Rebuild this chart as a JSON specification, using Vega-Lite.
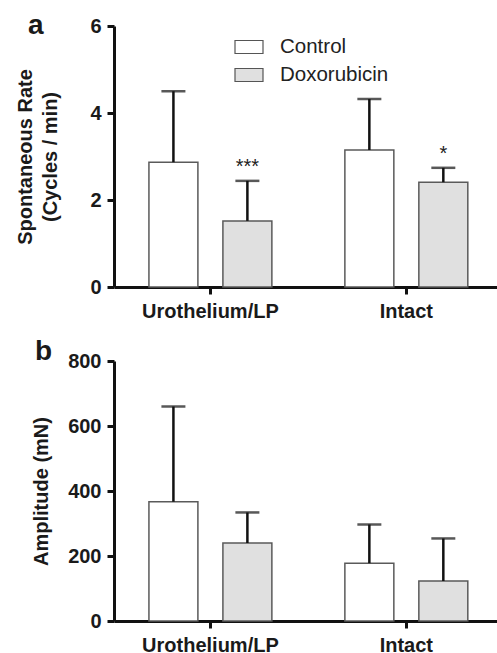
{
  "$schema": "https://vega.github.io/schema/vega-lite/v6.json",
  "padding": {"left": 15, "top": 12, "right": 0, "bottom": 0},
  "background": "white",
  "config": {
    "font": "Liberation Sans",
    "view": {"stroke": null},
    "axis": {
      "domainColor": "#111",
      "domainWidth": 3,
      "tickColor": "#111",
      "tickWidth": 3,
      "tickSize": 7,
      "labelFont": "Liberation Sans",
      "labelFontSize": 20,
      "labelFontWeight": "bold",
      "labelColor": "#1a1a1a",
      "titleFont": "Liberation Sans",
      "titleFontSize": 20,
      "titleFontWeight": "bold",
      "titleColor": "#1a1a1a",
      "grid": false
    },
    "title": {"font": "Liberation Sans", "fontSize": 28, "fontWeight": "bold", "color": "#1a1a1a"}
  },
  "datasets": {
    "rate": [
      {"site": "Urothelium/LP", "group": "Control", "value": 2.87, "upper": 4.5, "sig": ""},
      {"site": "Urothelium/LP", "group": "Doxorubicin", "value": 1.52, "upper": 2.44, "sig": "***"},
      {"site": "Intact", "group": "Control", "value": 3.15, "upper": 4.32, "sig": ""},
      {"site": "Intact", "group": "Doxorubicin", "value": 2.41, "upper": 2.74, "sig": "*"}
    ],
    "amp": [
      {"site": "Urothelium/LP", "group": "Control", "value": 367, "upper": 660},
      {"site": "Urothelium/LP", "group": "Doxorubicin", "value": 240, "upper": 334},
      {"site": "Intact", "group": "Control", "value": 178, "upper": 297},
      {"site": "Intact", "group": "Doxorubicin", "value": 123, "upper": 254}
    ]
  },
  "vconcat": [
    {
      "width": 386,
      "height": 261,
      "data": {"name": "rate"},
      "title": {"text": "a", "anchor": "start", "frame": "group", "dx": -86, "dy": 0, "offset": -46, "baseline": "alphabetic"},
      "encoding": {
        "x": {
          "field": "site", "type": "nominal", "sort": ["Urothelium/LP", "Intact"],
          "scale": {"paddingInner": 0.1, "paddingOuter": 0.035, "align": 0.6},
          "axis": {"title": null, "labelAngle": 0, "labelPadding": 7}
        },
        "xOffset": {
          "field": "group", "type": "nominal", "sort": ["Control", "Doxorubicin"],
          "scale": {"paddingInner": 0.338, "paddingOuter": 0.361}
        }
      },
      "layer": [
        {
          "mark": {"type": "bar", "stroke": "#5a5a5a", "strokeWidth": 1.5},
          "encoding": {
            "y": {
              "field": "value", "type": "quantitative",
              "scale": {"domain": [0, 6], "nice": false},
              "axis": {"values": [0, 2, 4, 6], "title": ["Spontaneous Rate", "(Cycles / min)"], "titleLineHeight": 25, "labelPadding": 6, "titlePadding": 29}
            },
            "fill": {
              "field": "group", "type": "nominal",
              "scale": {"domain": ["Control", "Doxorubicin"], "range": ["#ffffff", "#e0e0e0"]},
              "legend": {
                "title": null, "orient": "none", "legendX": 120, "legendY": 6, "padding": 0,
                "symbolType": "M-1,-0.464L1,-0.464L1,0.464L-1,0.464Z", "symbolSize": 784,
                "symbolStrokeColor": "#555", "symbolStrokeWidth": 1.2,
                "labelFontSize": 20.5, "labelFont": "Liberation Sans", "labelColor": "#222", "labelOffset": 16, "rowPadding": 2
              }
            }
          }
        },
        {
          "mark": {"type": "rule", "color": "#111", "strokeWidth": 2.5},
          "encoding": {"y": {"field": "value", "type": "quantitative"}, "y2": {"field": "upper"}}
        },
        {
          "mark": {"type": "tick", "color": "#111", "thickness": 2.5, "size": 24, "orient": "horizontal"},
          "encoding": {"y": {"field": "upper", "type": "quantitative"}}
        },
        {
          "mark": {"type": "text", "fontSize": 20, "baseline": "alphabetic", "dy": -8, "color": "#222"},
          "encoding": {"y": {"field": "upper", "type": "quantitative"}, "text": {"field": "sig"}}
        }
      ]
    },
    {
      "width": 386,
      "height": 260,
      "data": {"name": "amp"},
      "title": {"text": "b", "anchor": "start", "frame": "group", "dx": -79, "dy": 0, "offset": -37, "baseline": "alphabetic"},
      "encoding": {
        "x": {
          "field": "site", "type": "nominal", "sort": ["Urothelium/LP", "Intact"],
          "scale": {"paddingInner": 0.1, "paddingOuter": 0.035, "align": 0.6},
          "axis": {"title": null, "labelAngle": 0, "labelPadding": 7}
        },
        "xOffset": {
          "field": "group", "type": "nominal", "sort": ["Control", "Doxorubicin"],
          "scale": {"paddingInner": 0.338, "paddingOuter": 0.361}
        }
      },
      "layer": [
        {
          "mark": {"type": "bar", "stroke": "#5a5a5a", "strokeWidth": 1.5},
          "encoding": {
            "y": {
              "field": "value", "type": "quantitative",
              "scale": {"domain": [0, 800], "nice": false},
              "axis": {"values": [0, 200, 400, 600, 800], "title": "Amplitude (mN)", "labelPadding": 6, "titlePadding": 16}
            },
            "fill": {
              "field": "group", "type": "nominal",
              "scale": {"domain": ["Control", "Doxorubicin"], "range": ["#ffffff", "#e0e0e0"]},
              "legend": null
            }
          }
        },
        {
          "mark": {"type": "rule", "color": "#111", "strokeWidth": 2.5},
          "encoding": {"y": {"field": "value", "type": "quantitative"}, "y2": {"field": "upper"}}
        },
        {
          "mark": {"type": "tick", "color": "#111", "thickness": 2.5, "size": 24, "orient": "horizontal"},
          "encoding": {"y": {"field": "upper", "type": "quantitative"}}
        }
      ]
    }
  ],
  "spacing": 17,
  "resolve": {"scale": {"y": "independent"}, "legend": {"fill": "independent"}}
}
